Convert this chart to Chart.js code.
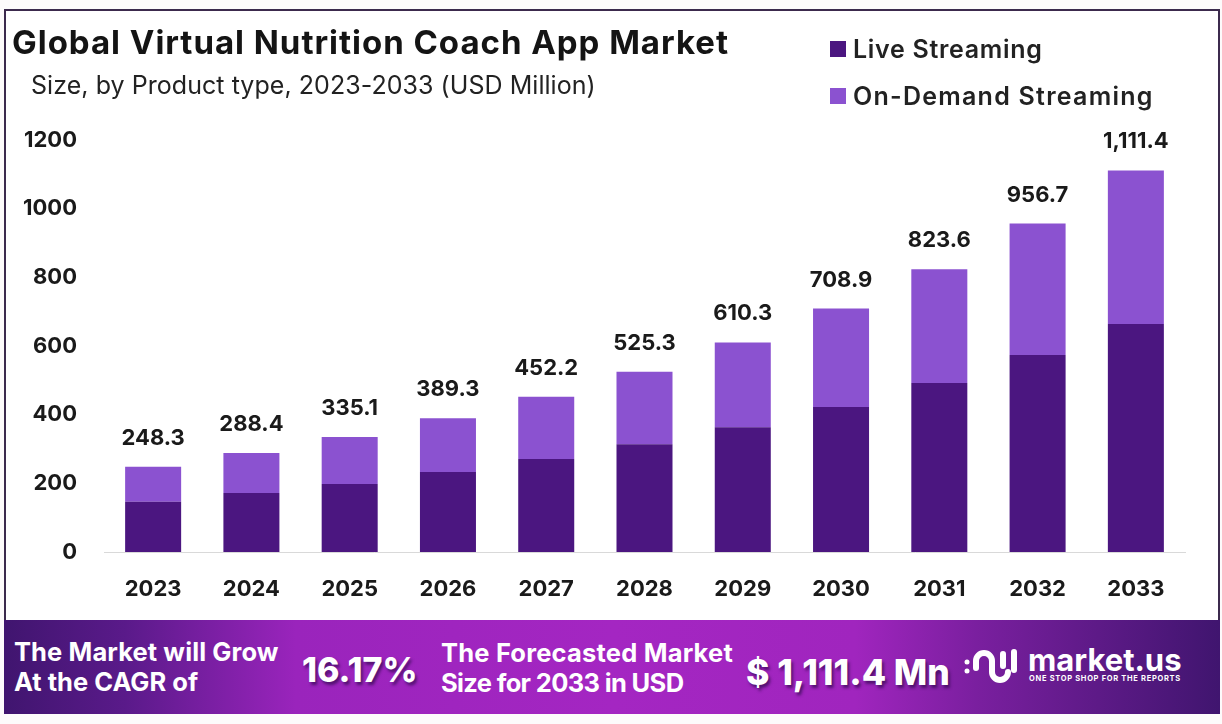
<!DOCTYPE html>
<html>
<head>
<meta charset="utf-8">
<script src="https://cdn.jsdelivr.net/npm/chart.js@4/dist/chart.umd.min.js"></script>
<style>
  html, body { margin:0; padding:0; background:#fdfbfb; }
  body { width:1222px; height:724px; position:relative; overflow:hidden; font-family:Inter, sans-serif; color:#111; }
  .frame { position:absolute; left:4px; top:9px; width:1216px; height:612px; background:#fff; border:2px solid #3c2a4d; border-bottom:none; box-sizing:border-box; }
  #chart { position:absolute; left:0; top:0; }
  .txt { position:absolute; white-space:nowrap; }
  .title { left:12px; top:22px; font-size:33px; font-weight:700; line-height:40px; letter-spacing:.97px; color:#141414; }
  .sub { left:31px; top:69px; font-size:25px; font-weight:400; line-height:32px; letter-spacing:.05px; color:#222; }
  .leg { left:853px; font-size:25px; font-weight:600; line-height:32px; letter-spacing:.7px; color:#222; }
  .sw { position:absolute; left:830px; width:16px; height:16px; }
  .banner { position:absolute; left:4px; top:620px; width:1216px; height:94px; background:linear-gradient(90deg,#40156f 0%,#5a1a8a 10%,#9a24bc 24%,#a426c2 50%,#a025be 70%,#7a1f9f 80%,#40156f 100%); }
  .ban { color:#fff; font-weight:700; font-size:25.5px; line-height:30px; }
  .big { color:#fff; font-weight:800; font-size:34px; line-height:40px; text-shadow:2px 3px 3px rgba(50,10,80,.7); }
</style>
</head>
<body>
<div class="frame"></div>
<canvas id="chart" width="1222" height="724"></canvas>
<div class="txt title">Global Virtual Nutrition Coach App Market</div>
<div class="txt sub">Size, by Product type, 2023-2033 (USD Million)</div>
<div class="sw" style="top:41px;background:#4b1680"></div>
<div class="txt leg" style="top:33px">Live Streaming</div>
<div class="sw" style="top:88px;background:#8b52d0"></div>
<div class="txt leg" style="top:80px;letter-spacing:1.25px">On-Demand Streaming</div>
<div class="banner"></div>
<div class="txt ban" style="left:14px;top:637px;letter-spacing:.1px">The Market will Grow</div>
<div class="txt ban" style="left:14px;top:667px">At the CAGR of</div>
<div class="txt big" style="left:302px;top:650px">16.17%</div>
<div class="txt ban" style="left:441px;top:638px;letter-spacing:.2px">The Forecasted Market</div>
<div class="txt ban" style="left:441px;top:668px;letter-spacing:-.65px">Size for 2033 in USD</div>
<div class="txt big" style="left:746px;top:653px;font-size:35.5px">$ 1,111.4 Mn</div>
<svg class="txt" style="left:964px;top:646px" width="56" height="44" viewBox="0 0 56 44">
  <path d="M12 22 V15 a8 8 0 0 1 16 0 V26 a8 8 0 0 0 16 0" fill="none" stroke="#fff" stroke-width="6" stroke-linecap="round"/>
  <path d="M39 8 V20 M50 6 V24" fill="none" stroke="#fff" stroke-width="6" stroke-linecap="round"/>
  <circle cx="3" cy="16" r="2.5" fill="#fff"/><circle cx="3" cy="25" r="2.5" fill="#fff"/>
</svg>
<div class="txt" style="left:1028px;top:642px;color:#fff;font-weight:700;font-size:31px;line-height:36px">market.us</div>
<div class="txt" style="left:1029px;top:674px;color:#fff;font-weight:700;font-size:7.5px;line-height:10px;letter-spacing:.7px">ONE STOP SHOP FOR THE REPORTS</div>
<script>
const years = ['2023','2024','2025','2026','2027','2028','2029','2030','2031','2032','2033'];
const liveStreaming = [146, 172, 198, 233, 271, 314, 363, 422, 492, 574, 664];
const onDemandStreaming = [102.3, 116.4, 137.1, 156.3, 181.2, 211.3, 247.3, 286.9, 331.6, 382.7, 447.4];
const totalLabels = ['248.3','288.4','335.1','389.3','452.2','525.3','610.3','708.9','823.6','956.7','1,111.4'];

// totals above each stack
const totalsPlugin = {
  id: 'totals',
  afterDatasetsDraw(chart) {
    const { ctx } = chart;
    const meta = chart.getDatasetMeta(1);
    ctx.save();
    ctx.font = '700 22px Inter, sans-serif';
    ctx.fillStyle = '#1a1a1a';
    ctx.textAlign = 'center';
    ctx.textBaseline = 'alphabetic';
    meta.data.forEach((bar, i) => ctx.fillText(totalLabels[i], bar.x, bar.y - 22));
    ctx.restore();
  },
};

new Chart(document.getElementById('chart'), {
  type: 'bar',
  data: {
    labels: years,
    datasets: [
      { label: 'Live Streaming', data: liveStreaming, backgroundColor: '#4b1680' },
      { label: 'On-Demand Streaming', data: onDemandStreaming, backgroundColor: '#8b52d0' },
    ],
  },
  options: {
    responsive: false,
    animation: false,
    layout: { padding: { top: 140, right: 37, bottom: 124, left: 0 } },
    plugins: { legend: { display: false }, title: { display: false }, tooltip: { enabled: false } },
    datasets: { bar: { categoryPercentage: 1, barPercentage: 0.57 } },
    scales: {
      x: {
        stacked: true,
        grid: { display: false },
        border: { color: '#d9d9d9' },
        ticks: { color: '#1a1a1a', font: { family: 'Inter', size: 22, weight: '700' }, padding: 16, maxRotation: 0 },
        afterFit(s) { s.height = 48; },
      },
      y: {
        stacked: true,
        min: 0,
        max: 1200,
        grid: { display: false },
        border: { display: false },
        ticks: { stepSize: 200, color: '#1a1a1a', font: { family: 'Inter', size: 22, weight: '700' }, padding: 19, callback: v => String(v) },
        afterFit(s) { s.width = 104; },
      },
    },
  },
  plugins: [totalsPlugin],
});
</script>
</body>
</html>
